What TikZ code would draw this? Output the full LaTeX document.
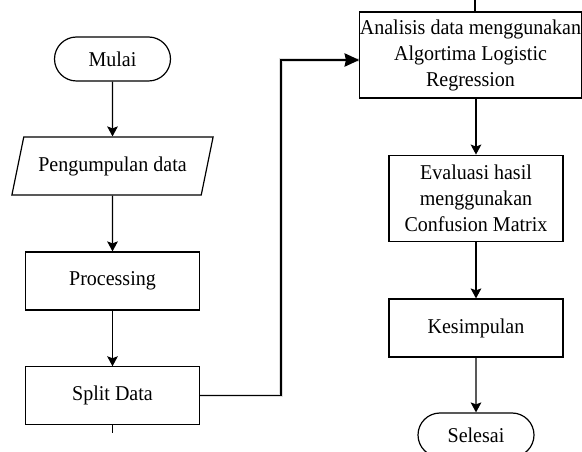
\documentclass[tikz,border=0pt]{standalone}
\usepackage{fontspec}
\setmainfont[FakeStretch=0.95]{Liberation Serif}
\usetikzlibrary{shapes.misc,shapes.geometric,arrows.meta}
\begin{document}
\begin{tikzpicture}[x=0.75pt,y=-0.75pt,
  font=\fontsize{15.8pt}{19.5pt}\selectfont,
  box/.style={draw,line width=0.9pt,rectangle,inner sep=0pt,align=center},
  term/.style={draw,line width=0.9pt,rounded rectangle,inner sep=0pt,
    minimum width=87pt,minimum height=33pt},
  io/.style={draw,line width=0.9pt,trapezium,trapezium stretches=true,
    trapezium left angle=62.6,trapezium right angle=117.4,inner sep=0pt,
    minimum width=151pt,minimum height=43.5pt},
  flow/.style={line width=0.8pt,-{Stealth[length=7.5pt,width=8pt,inset=1.5pt]}},
  jump/.style={line width=1.4pt,-{Stealth[length=11pt,width=10pt,inset=1pt]}}]
\useasboundingbox (0,0) rectangle (582,452);
\clip (0,0) rectangle (582,452);

% left column
\node[term] (mulai) at (112.5,59) {Mulai};
\node[io] (peng) at (112.5,166) {Pengumpulan data};
\node[box,minimum width=130pt,minimum height=43.5pt] (proc) at (112.5,281) {Processing};
\node[box,minimum width=130pt,minimum height=43pt] (split) at (112.5,395.5) {Split Data};

% right column
\node[box,minimum width=166pt,minimum height=64.5pt] (ana) at (470.5,55)
  {Analisis data menggunakan\\Algortima Logistic\\Regression};
\node[box,minimum width=130.5pt,minimum height=65pt] (eval) at (476,198.5)
  {Evaluasi hasil\\menggunakan\\Confusion Matrix};
\node[box,minimum width=130.5pt,minimum height=43.5pt] (kes) at (476,328) {Kesimpulan};
\node[term] (selesai) at (476,435) {Selesai};

% connectors
\draw[flow] (mulai) -- (peng);
\draw[flow] (peng) -- (proc);
\draw[flow] (proc) -- (split);
\coordinate (bend) at (281,60);
\draw[line width=2.5pt,gray!25,shift={(2,3)}] (split.east) -| (bend) -- (ana.west |- bend);
\draw[jump] (split.east) -| (bend) -- (ana.west |- bend);
\draw[flow] (eval.north |- ana.south) -- (eval.north);
\draw[flow] (eval) -- (kes);
\draw[flow] (kes) -- (selesai);

% short stubs of lines continuing off the page
\coordinate (topstub) at (475,0);
\draw[line width=0.8pt] (topstub) -- (topstub |- ana.north);
\draw[line width=0.8pt] (split.south) -- ++(0,8);
\end{tikzpicture}
\end{document}
